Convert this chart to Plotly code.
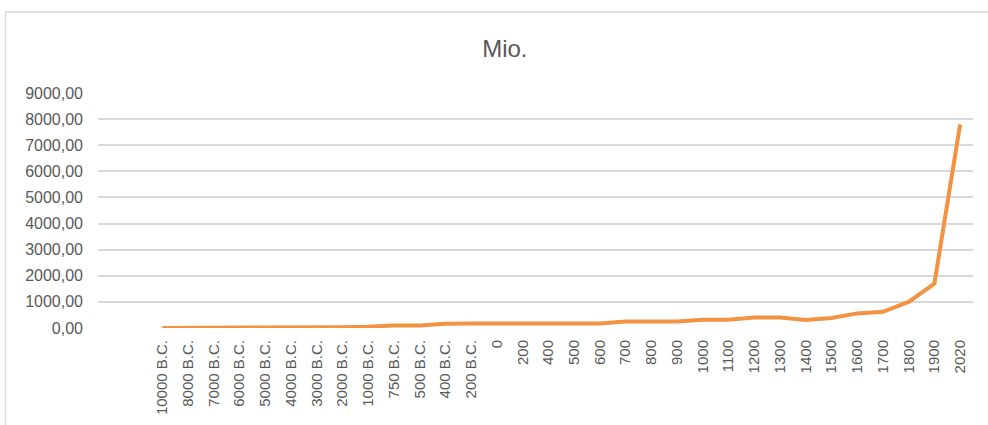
import plotly.graph_objects as go

categories = ["10000 B.C.", "8000 B.C.", "7000 B.C.", "6000 B.C.", "5000 B.C.", "4000 B.C.",
              "3000 B.C.", "2000 B.C.", "1000 B.C.", "750 B.C.", "500 B.C.", "400 B.C.",
              "200 B.C.", "0", "200", "400", "500", "600", "700", "800", "900", "1000",
              "1100", "1200", "1300", "1400", "1500", "1600", "1700", "1800", "1900", "2020"]
population = [4, 5, 5, 5, 5, 7, 14, 27, 50, 100, 100, 165, 170, 170, 170, 170, 170, 170,
              245, 245, 245, 320, 320, 400, 400, 310, 380, 560, 620, 1000, 1700, 7800]
y_tickvals = [0, 1000, 2000, 3000, 4000, 5000, 6000, 7000, 8000, 9000]
y_ticktext = ["0,00", "1000,00", "2000,00", "3000,00", "4000,00", "5000,00",
              "6000,00", "7000,00", "8000,00", "9000,00"]
title_text = "Mio."

FONT = "Liberation Sans"
GRAY = "#595959"
GRID = "#d9d9d9"

fig = go.Figure()
fig.add_trace(go.Scatter(
    x=categories, y=population, mode="lines",
    line=dict(color="#F39240", width=4),
    hoverinfo="skip", showlegend=False,
))

fig.update_layout(
    width=988, height=425,
    margin=dict(l=98, r=15, t=93, b=97, pad=0, autoexpand=False),
    paper_bgcolor="white", plot_bgcolor="white",
    font=dict(family=FONT, color=GRAY, size=16),
    title=dict(text=title_text, x=0.511, xanchor="center", y=0.885, yanchor="middle",
               font=dict(family=FONT, size=24, color=GRAY)),
    xaxis=dict(
        type="category", categoryorder="array", categoryarray=categories,
        range=[-2.5, 31.5], tickangle=-90, showgrid=False, zeroline=False,
        showline=False, ticks="", ticklabelstandoff=8, automargin=False,
        tickfont=dict(family=FONT, size=15, color=GRAY),
    ),
    yaxis=dict(
        range=[0, 9000], tickvals=y_tickvals, ticktext=y_ticktext,
        showgrid=True, gridcolor=GRID, gridwidth=1.5, zeroline=False,
        showline=False, ticks="", ticklabelstandoff=14, automargin=False,
        tickfont=dict(family=FONT, size=16, color=GRAY),
    ),
    shapes=[dict(type="rect", xref="paper", yref="paper",
                 x0=-0.1057, x1=1.2, y0=-1.0, y1=1.3447,
                 line=dict(color=GRID, width=1.5), fillcolor="rgba(0,0,0,0)", layer="below")],
)

fig.write_html("out.html")
